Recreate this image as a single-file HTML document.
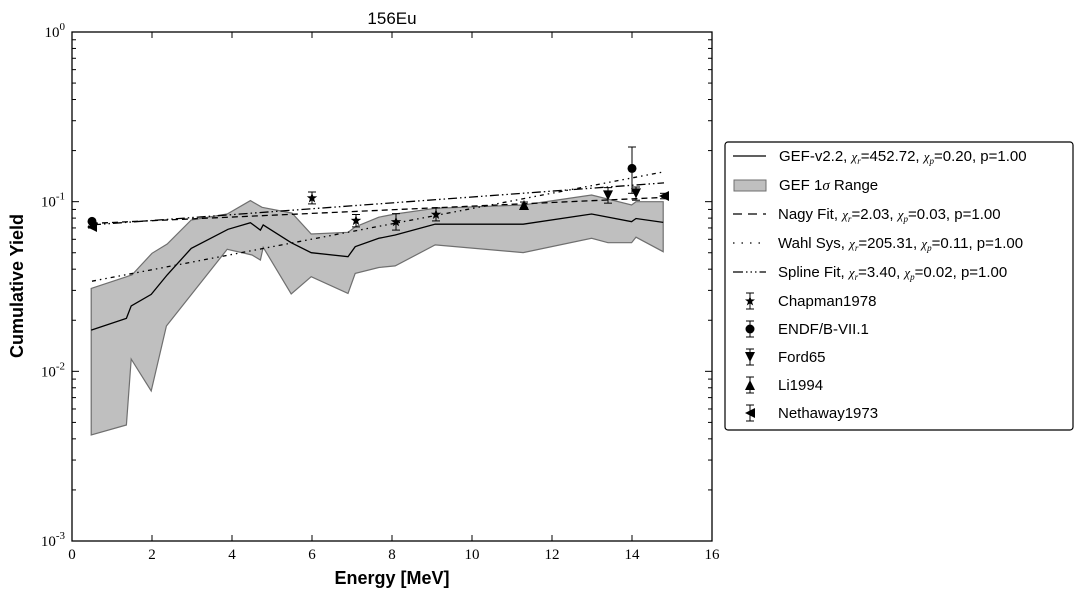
<!DOCTYPE html>
<html><head><meta charset="utf-8"><style>
body{margin:0;background:#fff;}
svg{display:block;}
.sans{font-family:"Liberation Sans",sans-serif;}
.serif{font-family:"Liberation Serif",serif;}
</style></head><body>
<svg id="chart" width="1083" height="597" xmlns="http://www.w3.org/2000/svg"></svg>
<script>
const gefE=[0.48,1.36,1.48,1.98,2.38,2.98,3.9,4.46,4.71,4.78,5.48,5.98,6.9,7.08,7.67,8.08,9.08,11.28,12.99,13.99,14.1,14.78];
const gefV=[0.0175,0.0205,0.0243,0.0284,0.037,0.053,0.0687,0.0752,0.068,0.073,0.0573,0.050,0.0474,0.0543,0.0608,0.0636,0.0738,0.0737,0.0846,0.0762,0.0796,0.0755];
const upE=[0.48,1.5,2.0,2.38,2.98,3.88,4.46,4.75,5.5,5.98,6.9,7.08,7.67,8.08,9.08,11.28,12.99,13.99,14.1,14.78];
const upV=[0.0308,0.037,0.0496,0.0563,0.078,0.0846,0.1014,0.0926,0.0856,0.0645,0.066,0.071,0.081,0.0846,0.0914,0.0956,0.1095,0.0956,0.100,0.100];
const loE=[0.48,1.36,1.48,1.98,2.36,3.88,4.5,4.71,4.78,5.48,5.98,6.9,7.08,7.67,8.08,9.08,11.28,12.99,13.4,13.99,14.1,14.78];
const loV=[0.00422,0.00483,0.0118,0.00766,0.0185,0.0524,0.0485,0.0453,0.0538,0.0286,0.0361,0.0288,0.0378,0.0409,0.0418,0.0556,0.0501,0.0608,0.0573,0.0573,0.0617,0.0507];
const fitE=[0.5,14.8];
const nagyV=[0.0745,0.106];
const wahlV=[0.034,0.150];
const splineV=[0.073,0.129];
const chapman=[[6.0,0.105,0.097,0.114],[7.1,0.0773,0.071,0.084],[8.1,0.076,0.068,0.085],[9.1,0.084,0.077,0.092]];
const endf=[[0.5,0.0765,0.0755,0.0775],[14.0,0.157,0.112,0.21]];
const ford=[[13.4,0.109,0.098,0.121],[14.1,0.112,0.102,0.122]];
const li=[[11.3,0.0956,0.092,0.0995]];
const neth=[[0.5,0.0709,0.0699,0.0719],[14.8,0.108,0.104,0.112]];
const xTicks=[0,2,4,6,8,10,12,14,16];
const yExp=[0,-1,-2,-3];

const L=72,R=712,T=32,B=541;
const sx=e=>L+(e/16)*(R-L);
const sy=v=>T+(-Math.log10(v))/3*(B-T);
const svg=document.getElementById('chart');
const NS='http://www.w3.org/2000/svg';
function mk(tag,attrs,parent){const el=document.createElementNS(NS,tag);for(const k in attrs)el.setAttribute(k,attrs[k]);(parent||svg).appendChild(el);return el;}
function pts(E,V){return E.map((e,i)=>sx(e).toFixed(1)+','+sy(V[i]).toFixed(1)).join(' ');}

// band
let band=mk('polygon',{points:pts(upE,upV)+' '+pts(loE.slice().reverse(),loV.slice().reverse()),fill:'#bfbfbf',stroke:'#6f6f6f','stroke-width':1.2});


let gl=mk('polyline',{points:pts(gefE,gefV),fill:'none',stroke:'#000','stroke-width':1.3});


let nl=mk('polyline',{points:pts(fitE,nagyV),fill:'none',stroke:'#000','stroke-width':1.3,'stroke-dasharray':'6,4'});


let wl=mk('polyline',{points:pts(fitE,wahlV),fill:'none',stroke:'#000','stroke-width':1.3,'stroke-dasharray':'4,4,1.5,4,1.5,4'});


let sl=mk('polyline',{points:pts(fitE,splineV),fill:'none',stroke:'#000','stroke-width':1.3,'stroke-dasharray':'9,3,1.5,3,1.5,3'});



function marker(kind,x,y,p,s){
  s=s||5;
  if(kind==='circle')return mk('circle',{cx:x,cy:y,r:s,fill:'#000'},p);
  let d;
  if(kind==='down')d=`M${x-s},${y-s} L${x+s},${y-s} L${x},${y+s} Z`;
  else if(kind==='up')d=`M${x-s},${y+s} L${x+s},${y+s} L${x},${y-s} Z`;
  else if(kind==='left')d=`M${x+s},${y-s} L${x+s},${y+s} L${x-s},${y} Z`;
  else{let a=[];for(let i=0;i<10;i++){const r=i%2?s*0.45:s*1.1;const an=-Math.PI/2+i*Math.PI/5;a.push((x+r*Math.cos(an)).toFixed(1)+','+(y+r*Math.sin(an)).toFixed(1));}d='M'+a.join(' L')+'Z';}
  return mk('path',{d:d,fill:'#000'},p);
}
function series(arr,kind,name){
  const g=mk('g',{});
  
  
  arr.forEach(r=>{
    const x=sx(r[0]),y=sy(r[1]),y1=sy(r[2]),y2=sy(r[3]);
    mk('line',{x1:x,x2:x,y1:y1,y2:y2,stroke:'#000','stroke-width':1},g);
    mk('line',{x1:x-4,x2:x+4,y1:y1,y2:y1,stroke:'#000','stroke-width':1},g);
    mk('line',{x1:x-4,x2:x+4,y1:y2,y2:y2,stroke:'#000','stroke-width':1},g);
    const m=marker(kind,x,y,g,kind==='circle'?4.5:5);
    
    
  });
}
series(chapman,'star','chapman1978-series');
series(endf,'circle','endf-series');
series(ford,'down','ford65-series');
series(li,'up','li1994-series');
series(neth,'left','nethaway1973-series');

// axes frame
let fr=mk('rect',{x:L,y:T,width:R-L,height:B-T,fill:'none',stroke:'#000','stroke-width':1.3});


const ax=mk('g',{});


xTicks.forEach(t=>{
  const x=sx(t);
  mk('line',{x1:x,x2:x,y1:B,y2:B-6,stroke:'#000'},ax);
  mk('line',{x1:x,x2:x,y1:T,y2:T+6,stroke:'#000'},ax);
  const tx=mk('text',{x:x,y:B+18,'text-anchor':'middle','font-size':15,class:'serif'},ax);
  tx.textContent=t;
  
  
});
yExp.forEach(e=>{
  const y=sy(Math.pow(10,e));
  mk('line',{x1:L,x2:L+7,y1:y,y2:y,stroke:'#000'},ax);
  mk('line',{x1:R,x2:R-7,y1:y,y2:y,stroke:'#000'},ax);
  const tx=mk('text',{x:L-7,y:y+5,'text-anchor':'end','font-size':15,class:'serif'},ax);
  tx.innerHTML='10<tspan dy="-7" font-size="11">'+e+'</tspan>';
  
  
  if(e>-3)for(let k=2;k<10;k++){
    const yy=sy(k*Math.pow(10,e-1));
    mk('line',{x1:L,x2:L+4,y1:yy,y2:yy,stroke:'#000'},ax);
    mk('line',{x1:R,x2:R-4,y1:yy,y2:yy,stroke:'#000'},ax);
  }
});
</script>
<svg style="position:absolute;left:0;top:0" width="1083" height="597" xmlns="http://www.w3.org/2000/svg">
<text x="392" y="24" text-anchor="middle" font-size="17" class="sans">156Eu</text>
<text x="392" y="584" text-anchor="middle" font-size="18" font-weight="bold" class="sans">Energy [MeV]</text>
<text transform="translate(23,286) rotate(-90)" text-anchor="middle" font-size="18" font-weight="bold" class="sans">Cumulative Yield</text>
<g class="sans" font-size="15">
<rect x="725" y="142" width="348" height="288" rx="3" fill="#fff" stroke="#000" stroke-width="1.2"/>
<g><line x1="733" x2="766" y1="156" y2="156" stroke="#000" stroke-width="1.3"/><text x="779" y="161">GEF-v2.2, <tspan class="serif" font-style="italic" font-size="13">χ<tspan font-size="9" dy="3">r</tspan></tspan><tspan dy="-3">=452.72, </tspan><tspan class="serif" font-style="italic" font-size="13">χ<tspan font-size="9" dy="3">p</tspan></tspan><tspan dy="-3">=0.20, p=1.00</tspan></text></g>
<g><rect x="734" y="180" width="32" height="11" fill="#bfbfbf" stroke="#6f6f6f"/><text x="779" y="190">GEF 1<tspan class="serif" font-style="italic">σ</tspan> Range</text></g>
<g><line x1="733" x2="766" y1="214" y2="214" stroke="#000" stroke-width="1.3" stroke-dasharray="9,6"/><text x="778" y="219">Nagy Fit, <tspan class="serif" font-style="italic" font-size="13">χ<tspan font-size="9" dy="3">r</tspan></tspan><tspan dy="-3">=2.03, </tspan><tspan class="serif" font-style="italic" font-size="13">χ<tspan font-size="9" dy="3">p</tspan></tspan><tspan dy="-3">=0.03, p=1.00</tspan></text></g>
<g><line x1="733" x2="766" y1="243" y2="243" stroke="#000" stroke-width="1.3" stroke-dasharray="1.5,7"/><text x="778" y="248">Wahl Sys, <tspan class="serif" font-style="italic" font-size="13">χ<tspan font-size="9" dy="3">r</tspan></tspan><tspan dy="-3">=205.31, </tspan><tspan class="serif" font-style="italic" font-size="13">χ<tspan font-size="9" dy="3">p</tspan></tspan><tspan dy="-3">=0.11, p=1.00</tspan></text></g>
<g><line x1="733" x2="766" y1="272" y2="272" stroke="#000" stroke-width="1.3" stroke-dasharray="10,3,1.5,3,1.5,3,1.5,3"/><text x="778" y="277">Spline Fit, <tspan class="serif" font-style="italic" font-size="13">χ<tspan font-size="9" dy="3">r</tspan></tspan><tspan dy="-3">=3.40, </tspan><tspan class="serif" font-style="italic" font-size="13">χ<tspan font-size="9" dy="3">p</tspan></tspan><tspan dy="-3">=0.02, p=1.00</tspan></text></g>
<g><path d="M750,293V309M746,293H754M746,309H754" stroke="#000"/><path d="M750,296 L751.2,299.4 L755,299.5 L752,301.8 L753.2,305.5 L750,303.3 L746.8,305.5 L748,301.8 L745,299.5 L748.8,299.4Z"/><text x="778" y="306">Chapman1978</text></g>
<g><path d="M750,321V337M746,321H754M746,337H754" stroke="#000"/><circle cx="750" cy="329" r="4.5"/><text x="778" y="334">ENDF/B-VII.1</text></g>
<g><path d="M750,349V365M746,349H754M746,365H754" stroke="#000"/><path d="M745,352H755L750,362Z"/><text x="778" y="362">Ford65</text></g>
<g><path d="M750,377V393M746,377H754M746,393H754" stroke="#000"/><path d="M745,390H755L750,380Z"/><text x="778" y="390">Li1994</text></g>
<g><path d="M750,405V421M746,405H754M746,421H754" stroke="#000"/><path d="M755,408V418L745,413Z"/><text x="778" y="418">Nethaway1973</text></g>
</g>
</svg>
</body></html>
